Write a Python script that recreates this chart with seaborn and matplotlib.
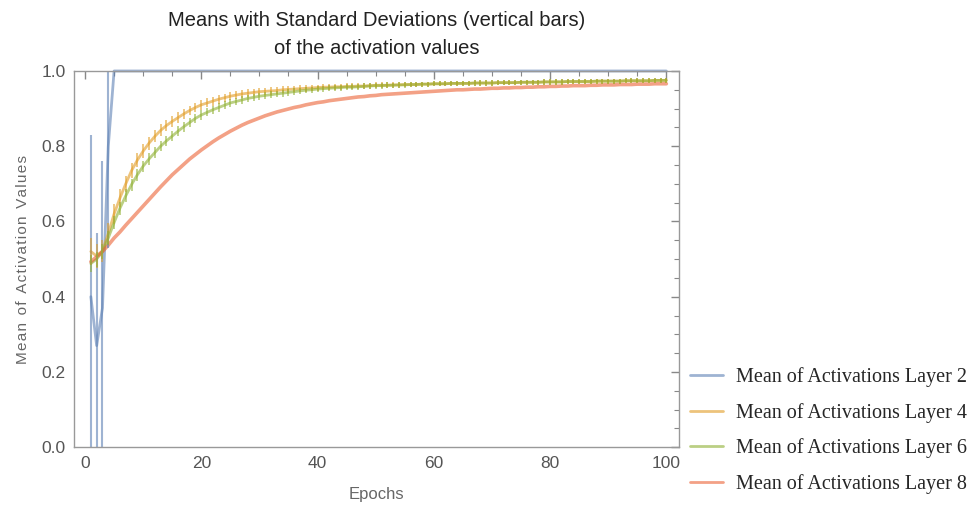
import numpy as np
import pandas as pd
import matplotlib
matplotlib.use('Agg')
import matplotlib.pyplot as plt
from matplotlib.ticker import MultipleLocator
import seaborn as sns

# data
epochs = list(range(1, 101))

layer2_mean = [0.40, 0.27, 0.37, 0.80, 1.0, 1.0, 1.0, 1.0, 1.0, 1.0,
               1.0, 1.0, 1.0, 1.0, 1.0, 1.0, 1.0, 1.0, 1.0, 1.0,
               1.0, 1.0, 1.0, 1.0, 1.0, 1.0, 1.0, 1.0, 1.0, 1.0,
               1.0, 1.0, 1.0, 1.0, 1.0, 1.0, 1.0, 1.0, 1.0, 1.0,
               1.0, 1.0, 1.0, 1.0, 1.0, 1.0, 1.0, 1.0, 1.0, 1.0,
               1.0, 1.0, 1.0, 1.0, 1.0, 1.0, 1.0, 1.0, 1.0, 1.0,
               1.0, 1.0, 1.0, 1.0, 1.0, 1.0, 1.0, 1.0, 1.0, 1.0,
               1.0, 1.0, 1.0, 1.0, 1.0, 1.0, 1.0, 1.0, 1.0, 1.0,
               1.0, 1.0, 1.0, 1.0, 1.0, 1.0, 1.0, 1.0, 1.0, 1.0,
               1.0, 1.0, 1.0, 1.0, 1.0, 1.0, 1.0, 1.0, 1.0, 1.0]
layer2_std = [0.43, 0.30, 0.39, 0.27, 0.003]

layer4_mean = [0.520, 0.508, 0.522, 0.568, 0.620, 0.662, 0.700, 0.735, 0.763, 0.787,
               0.808, 0.826, 0.842, 0.855, 0.866, 0.876, 0.886, 0.895, 0.903, 0.910,
               0.915, 0.920, 0.925, 0.929, 0.933, 0.936, 0.939, 0.941, 0.943, 0.945,
               0.946, 0.947, 0.948, 0.950, 0.951, 0.952, 0.953, 0.954, 0.955, 0.956,
               0.957, 0.957, 0.958, 0.958, 0.959, 0.959, 0.960, 0.960, 0.961, 0.962,
               0.962, 0.962, 0.963, 0.963, 0.964, 0.964, 0.964, 0.965, 0.965, 0.966,
               0.966, 0.966, 0.967, 0.967, 0.967, 0.967, 0.968, 0.968, 0.968, 0.968,
               0.969, 0.969, 0.969, 0.969, 0.970, 0.970, 0.970, 0.970, 0.971, 0.971,
               0.971, 0.971, 0.972, 0.972, 0.972, 0.972, 0.972, 0.973, 0.973, 0.973,
               0.973, 0.973, 0.974, 0.974, 0.974, 0.974, 0.974, 0.975, 0.975, 0.975]
layer4_std = [0.035, 0.032, 0.030, 0.028, 0.026, 0.024, 0.022, 0.020, 0.019, 0.018,
              0.017, 0.016, 0.016, 0.015, 0.015, 0.014, 0.014, 0.013, 0.013, 0.013,
              0.012, 0.012, 0.012, 0.011, 0.011, 0.011, 0.011, 0.010, 0.010, 0.010,
              0.010, 0.010, 0.009, 0.009, 0.009, 0.009, 0.009, 0.009, 0.009, 0.008,
              0.008, 0.008, 0.008, 0.008, 0.008, 0.008, 0.008, 0.008, 0.008, 0.008,
              0.008, 0.008, 0.007, 0.007, 0.007, 0.007, 0.007, 0.007, 0.007, 0.007,
              0.007, 0.007, 0.007, 0.007, 0.007, 0.007, 0.007, 0.007, 0.007, 0.007,
              0.007, 0.007, 0.007, 0.007, 0.007, 0.007, 0.007, 0.007, 0.007, 0.007,
              0.007, 0.007, 0.007, 0.007, 0.007, 0.007, 0.007, 0.007, 0.007, 0.007,
              0.007, 0.007, 0.007, 0.007, 0.007, 0.007, 0.007, 0.007, 0.007, 0.007]

layer6_mean = [0.488, 0.500, 0.520, 0.556, 0.597, 0.635, 0.668, 0.698, 0.724, 0.747,
               0.766, 0.783, 0.800, 0.814, 0.827, 0.840, 0.852, 0.863, 0.874, 0.883,
               0.890, 0.897, 0.903, 0.909, 0.915, 0.919, 0.923, 0.927, 0.930, 0.933,
               0.935, 0.937, 0.939, 0.941, 0.943, 0.945, 0.947, 0.949, 0.950, 0.952,
               0.953, 0.954, 0.955, 0.956, 0.957, 0.957, 0.958, 0.959, 0.960, 0.961,
               0.961, 0.962, 0.962, 0.963, 0.963, 0.964, 0.964, 0.965, 0.965, 0.966,
               0.966, 0.966, 0.967, 0.967, 0.967, 0.967, 0.968, 0.968, 0.968, 0.968,
               0.969, 0.969, 0.969, 0.969, 0.970, 0.970, 0.970, 0.970, 0.971, 0.971,
               0.971, 0.971, 0.972, 0.972, 0.972, 0.972, 0.972, 0.973, 0.973, 0.973,
               0.973, 0.973, 0.974, 0.974, 0.974, 0.974, 0.974, 0.975, 0.975, 0.975]
layer6_std = [0.022, 0.020, 0.019, 0.018, 0.018, 0.017, 0.017, 0.016, 0.016, 0.015,
              0.015, 0.014, 0.014, 0.014, 0.013, 0.013, 0.013, 0.012, 0.012, 0.012,
              0.011, 0.011, 0.011, 0.011, 0.010, 0.010, 0.010, 0.010, 0.010, 0.009,
              0.009, 0.009, 0.009, 0.009, 0.009, 0.009, 0.008, 0.008, 0.008, 0.008,
              0.008, 0.008, 0.008, 0.008, 0.008, 0.008, 0.008, 0.008, 0.008, 0.008,
              0.008, 0.008, 0.007, 0.007, 0.007, 0.007, 0.007, 0.007, 0.007, 0.007,
              0.007, 0.007, 0.007, 0.007, 0.007, 0.007, 0.007, 0.007, 0.007, 0.007,
              0.007, 0.007, 0.007, 0.007, 0.007, 0.007, 0.007, 0.007, 0.007, 0.007,
              0.007, 0.007, 0.007, 0.007, 0.007, 0.007, 0.007, 0.007, 0.007, 0.007,
              0.007, 0.007, 0.007, 0.007, 0.007, 0.007, 0.007, 0.007, 0.007, 0.007]

layer8_mean = [0.493, 0.506, 0.520, 0.537, 0.556, 0.572, 0.590, 0.607, 0.624, 0.641,
               0.658, 0.675, 0.692, 0.708, 0.724, 0.738, 0.752, 0.766, 0.778, 0.790,
               0.801, 0.812, 0.822, 0.831, 0.840, 0.848, 0.856, 0.863, 0.869, 0.875,
               0.881, 0.886, 0.891, 0.895, 0.899, 0.903, 0.906, 0.910, 0.913, 0.916,
               0.918, 0.921, 0.923, 0.925, 0.927, 0.929, 0.931, 0.932, 0.934, 0.935,
               0.937, 0.938, 0.939, 0.940, 0.941, 0.942, 0.943, 0.944, 0.945, 0.946,
               0.947, 0.948, 0.949, 0.950, 0.950, 0.951, 0.952, 0.952, 0.953, 0.954,
               0.954, 0.955, 0.955, 0.956, 0.956, 0.957, 0.957, 0.958, 0.958, 0.959,
               0.959, 0.960, 0.960, 0.961, 0.961, 0.961, 0.962, 0.962, 0.963, 0.963,
               0.963, 0.964, 0.964, 0.964, 0.965, 0.965, 0.965, 0.966, 0.966, 0.966]

labels = ['Mean of Activations Layer 2', 'Mean of Activations Layer 4',
          'Mean of Activations Layer 6', 'Mean of Activations Layer 8']
colors = ['#5E81B5', '#E19C24', '#8FB032', '#EB6235']

df = pd.DataFrame({
    'Epoch': epochs * 4,
    'Mean': layer2_mean + layer4_mean + layer6_mean + layer8_mean,
    'Layer': [labels[0]] * 100 + [labels[1]] * 100 + [labels[2]] * 100 + [labels[3]] * 100,
})

sns.set_style('white')
plt.rcParams['font.family'] = ['Liberation Sans', 'DejaVu Sans']

fig, ax = plt.subplots(figsize=(9.8, 5.07), dpi=100)
fig.subplots_adjust(left=0.0755, right=0.693, top=0.86, bottom=0.118)

sns.lineplot(data=df, x='Epoch', y='Mean', hue='Layer', palette=colors,
             linewidth=2, alpha=0.6, ax=ax, legend=True)

# standard deviation bars
n2 = len(layer2_std)
ax.vlines(epochs[:n2], np.array(layer2_mean[:n2]) - layer2_std,
          np.array(layer2_mean[:n2]) + layer2_std, color=colors[0], alpha=0.6, lw=1.5)
ax.vlines(epochs, np.array(layer4_mean) - layer4_std, np.array(layer4_mean) + layer4_std,
          color=colors[1], alpha=0.6, lw=1.3)
ax.vlines(epochs, np.array(layer6_mean) - layer6_std, np.array(layer6_mean) + layer6_std,
          color=colors[2], alpha=0.6, lw=1.3)
for ln in ax.lines:
    ln.set_clip_on(False)
ax.lines[3].set_linewidth(2.6)

ax.set_xlim(-1.9, 102.2)
ax.set_ylim(0, 1.0)
ax.xaxis.set_major_locator(MultipleLocator(20))
ax.xaxis.set_minor_locator(MultipleLocator(5))
ax.yaxis.set_major_locator(MultipleLocator(0.2))
ax.yaxis.set_minor_locator(MultipleLocator(0.05))
ax.yaxis.set_major_formatter(matplotlib.ticker.FormatStrFormatter('%.1f'))
ax.tick_params(which='both', direction='in', top=True, right=True, colors='#888888',
               labelcolor='#555555', labelsize=12.5)
ax.tick_params(which='major', length=6, width=1, pad=6)
ax.tick_params(which='minor', length=3.5, width=0.8)
for sp in ax.spines.values():
    sp.set_color('#999999')
    sp.set_linewidth(1)

ax.set_title('Means with Standard Deviations (vertical bars)\nof the activation values',
             fontsize=14.5, color='#222222', pad=12, linespacing=1.6)
ax.set_xlabel('Epochs', fontsize=12, color='#666666', labelpad=12)
ax.set_ylabel('M e a n  o f  A c t i v a t i o n  V a l u e s'.replace('  ', '\u2002').replace(' ', '\u200a'),
              fontsize=11, color='#666666', labelpad=8)

handles, _ = ax.get_legend_handles_labels()
leg = ax.legend(handles=handles, labels=labels, loc='center left', bbox_to_anchor=(1.005, 0.044),
                borderaxespad=0, frameon=False, handlelength=1.65, handletextpad=0.6,
                labelspacing=0.78, prop={'family': 'Liberation Serif', 'size': 14.5})
for h in leg.legend_handles:
    h.set_linewidth(2)
    h.set_alpha(0.6)

fig.savefig('out.png', dpi=100)
